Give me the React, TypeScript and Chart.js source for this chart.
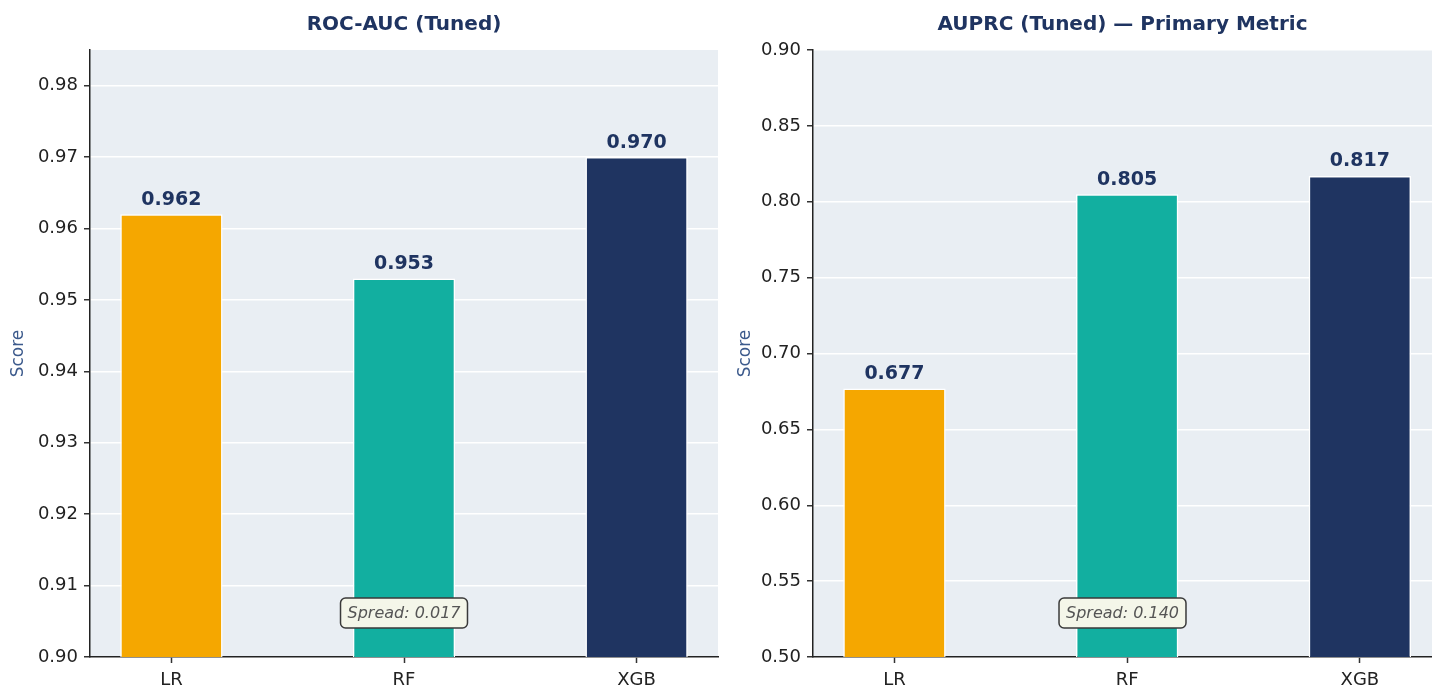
import React, { useEffect, useRef } from "react";
import { Chart, registerables } from "chart.js";

Chart.register(...registerables);

const categories = ["LR", "RF", "XGB"];
const rocValues = [0.962, 0.953, 0.970];
const auprcValues = [0.677, 0.805, 0.817];
const rocTicks = [0.90, 0.91, 0.92, 0.93, 0.94, 0.95, 0.96, 0.97, 0.98];
const auprcTicks = [0.50, 0.55, 0.60, 0.65, 0.70, 0.75, 0.80, 0.85, 0.90];
const barColors = ["#F5A700", "#12AFA0", "#1F3461"];

const FONT = "'DejaVu Sans', 'Liberation Sans', sans-serif";
const NAVY = "#1F3461";

type PanelOpts = {
  title: string;
  values: number[];
  ticks: number[];
  yMin: number;
  yMax: number;
  xMax: number;
  axisWidth: number;
  titlePad: number;
  padRight: number;
};

function makeChart(canvas: HTMLCanvasElement, o: PanelOpts) {
  const spread = Math.max(...o.values) - Math.min(...o.values);
  const plugin = {
    id: "decor",
    beforeDraw(chart: any) {
      const { ctx, chartArea: a } = chart;
      ctx.save();
      ctx.fillStyle = "#E9EEF3";
      ctx.fillRect(a.left, a.top, a.right - a.left, a.bottom - a.top);
      ctx.restore();
    },
    afterDatasetsDraw(chart: any) {
      const { ctx, chartArea: a } = chart;
      const meta = chart.getDatasetMeta(0);
      ctx.save();
      ctx.font = `bold 19px ${FONT}`;
      ctx.fillStyle = NAVY;
      ctx.textAlign = "center";
      ctx.textBaseline = "bottom";
      meta.data.forEach((el: any, i: number) => {
        ctx.fillText(o.values[i].toFixed(3), el.x, el.y - 5);
      });
      const text = `Spread: ${spread.toFixed(3)}`;
      ctx.font = `italic 16px ${FONT}`;
      const w = ctx.measureText(text).width + 14;
      const h = 30;
      const cx = (a.left + a.right) / 2;
      const cy = a.bottom - 44;
      ctx.beginPath();
      (ctx as any).roundRect(cx - w / 2, cy - h / 2, w, h, 5);
      ctx.fillStyle = "#F4F6E9";
      ctx.fill();
      ctx.lineWidth = 1.5;
      ctx.strokeStyle = "#3a3a3a";
      ctx.stroke();
      ctx.fillStyle = "#555555";
      ctx.textBaseline = "middle";
      ctx.fillText(text, cx, cy + 1);
      ctx.restore();
    },
  };

  return new Chart(canvas, {
    type: "bar",
    data: {
      datasets: [
        {
          data: o.values.map((v, i) => ({ x: i, y: v })),
          backgroundColor: barColors,
          borderColor: "#ffffff",
          borderWidth: 1.5,
          borderSkipped: "bottom",
          barPercentage: 0.44,
          categoryPercentage: 1,
        },
      ],
    },
    options: {
      animation: false,
      responsive: true,
      maintainAspectRatio: false,
      layout: { padding: { left: 0, right: o.padRight, top: 0, bottom: 0 } },
      plugins: {
        legend: { display: false },
        tooltip: { enabled: false },
        title: {
          display: true,
          fullSize: false,
          text: o.title,
          color: NAVY,
          font: { family: FONT, size: 20, weight: "bold" },
          padding: { top: 13, bottom: 13 },
        },
      },
      scales: {
        x: {
          type: "linear",
          min: -0.35,
          max: o.xMax,
          offset: false,
          afterBuildTicks: (s: any) => {
            s.ticks = categories.map((_, i) => ({ value: i }));
          },
          afterFit: (s: any) => {
            s.height = 36;
          },
          ticks: {
            callback: (v: any) => categories[Math.round(Number(v))] ?? "",
            color: "#222222",
            font: { family: FONT, size: 18 },
            padding: 7,
            autoSkip: false,
            maxRotation: 0,
          },
          grid: {
            offset: false,
            drawOnChartArea: false,
            tickLength: 6,
            tickColor: "#333333",
            tickWidth: 1.5,
          },
          border: { color: "#222222", width: 1.5 },
        },
        y: {
          type: "linear",
          min: o.yMin,
          max: o.yMax,
          afterBuildTicks: (s: any) => {
            s.ticks = o.ticks.map((v) => ({ value: v }));
          },
          afterFit: (s: any) => {
            s.width = o.axisWidth;
          },
          ticks: {
            callback: (v: any) => Number(v).toFixed(2),
            color: "#222222",
            font: { family: FONT, size: 18 },
            padding: 6,
          },
          grid: {
            color: "#ffffff",
            lineWidth: 1.5,
            tickLength: 6,
            tickColor: "#333333",
            tickWidth: 1.5,
          },
          border: { color: "#222222", width: 1.5 },
          title: {
            display: true,
            text: "Score",
            color: "#3C5A8C",
            font: { family: FONT, size: 17 },
            padding: { top: o.titlePad, bottom: 0 },
          },
        },
      },
    },
    plugins: [plugin],
  } as any);
}

function Panel(props: PanelOpts & { left: number; width: number }) {
  const ref = useRef<HTMLCanvasElement>(null);
  useEffect(() => {
    if (!ref.current) return;
    const c = makeChart(ref.current, props);
    return () => c.destroy();
  }, []);
  return (
    <div
      style={{
        position: "absolute",
        left: props.left,
        top: 0,
        width: props.width,
        height: 693,
      }}
    >
      <canvas ref={ref} />
    </div>
  );
}

export default function App() {
  return (
    <div
      style={{
        position: "absolute",
        left: 0,
        top: 0,
        width: 1432,
        height: 693,
        background: "#ffffff",
      }}
    >
      <Panel
        left={0}
        width={720}
        title="ROC-AUC (Tuned)"
        values={rocValues}
        ticks={rocTicks}
        yMin={0.9}
        yMax={0.985}
        xMax={2.35}
        axisWidth={90}
        titlePad={8}
        padRight={2}
      />
      <Panel
        left={720}
        width={712}
        title="AUPRC (Tuned) — Primary Metric"
        values={auprcValues}
        ticks={auprcTicks}
        yMin={0.5}
        yMax={0.9}
        xMax={2.31}
        axisWidth={93}
        titlePad={15}
        padRight={0}
      />
    </div>
  );
}
